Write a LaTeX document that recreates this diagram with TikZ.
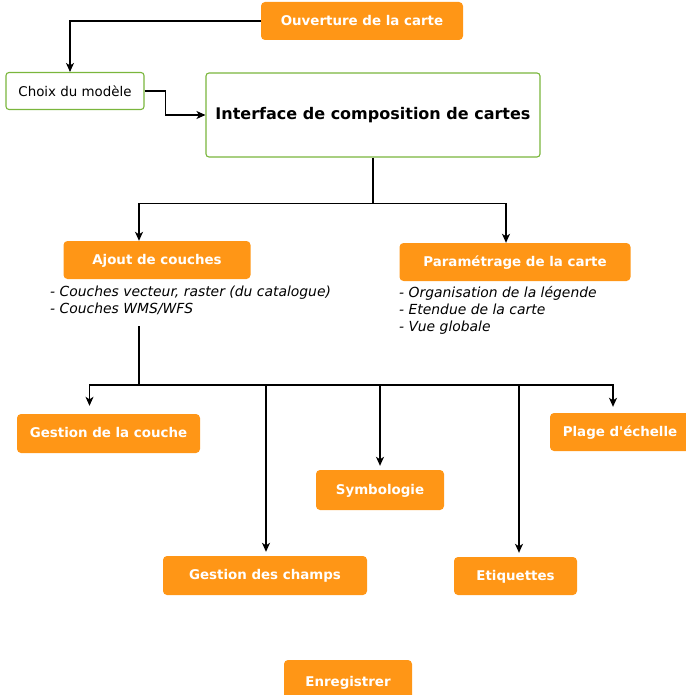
\documentclass[tikz,border=0pt]{standalone}
\usepackage{fontspec}
\setmainfont{DejaVu Sans}
\usepackage{tikz}
\usetikzlibrary{arrows.meta,shapes,positioning,calc}

\definecolor{boxorange}{RGB}{255,150,22}
\definecolor{boxgreen}{RGB}{122,182,60}

\tikzset{
  orangebox/.style={fill=boxorange, draw=none, rounded corners=4pt, text=white,
    font=\fontsize{13.4}{15}\selectfont\bfseries, inner sep=0pt, text depth=0.25ex},
  greenbox/.style={fill=white, draw=boxgreen, line width=1.1pt, rounded corners=3pt, inner sep=0pt},
  listtext/.style={font=\fontsize{13.9}{17.2}\selectfont\itshape, align=left, anchor=north west, inner sep=0pt},
  link/.style={line width=1.2pt, -{Stealth[length=9pt,width=8pt,inset=2.5pt]}}
}

\begin{document}
\begin{tikzpicture}[x=1pt,y=-1pt]
			\useasboundingbox (0,0) rectangle (685,695);
			
			% top of the chart
			\node[orangebox, minimum width=202pt, minimum height=38pt] (ouverture) at (362,21) {Ouverture de la carte};
			\node[greenbox, minimum width=138pt, minimum height=37pt, font=\fontsize{13.4}{15}\selectfont] (choix) at (75,91) {Choix du modèle};
			\node[greenbox, minimum width=334pt, minimum height=84pt, font=\fontsize{16}{18}\selectfont\bfseries] (interface) at (373,115) {Interface de composition de cartes};
			
			% second level
			\node[orangebox, minimum width=187pt, minimum height=38pt] (ajout) at (157,260) {Ajout de couches};
			\node[orangebox, minimum width=231pt, minimum height=38pt] (parametrage) at (515,262) {Paramétrage de la carte};
			\node[listtext] (ajoutliste) at (50,286) {- Couches vecteur, raster (du catalogue)\\- Couches WMS/WFS};
			\node[listtext] (paramliste) at (399,286) {- Organisation de la légende\\- Etendue de la carte\\- Vue globale};
			
			% tools
			\node[orangebox, minimum width=183pt, minimum height=39pt] (gcouche) at (108.5,433.5) {Gestion de la couche};
			\node[orangebox, minimum width=140pt, minimum height=38pt] (plage) at (620,432) {Plage d\textquotesingle échelle};
			\node[orangebox, minimum width=128pt, minimum height=40pt] (symbo) at (380,490) {Symbologie};
			\node[orangebox, minimum width=204pt, minimum height=39pt] (gchamps) at (265,575.5) {Gestion des champs};
			\node[orangebox, minimum width=123pt, minimum height=38pt] (etiq) at (515.5,576) {Etiquettes};
			\node[orangebox, minimum width=128pt, minimum height=44pt] (enreg) at (348,682) {Enregistrer};
			
			% connectors
			\draw[link] (ouverture.west) -| ([xshift=-5pt]choix.north);
			\draw[link] (choix.east) -- ++(21,0) |- (interface.west);
			\coordinate (split) at ($(interface.south)+(0,46)$);
			\draw[link] (interface.south) -- (split) -| ([xshift=-18pt]ajout.north);
			\draw[link] (split) -| ([xshift=-9pt]parametrage.north);
			
			\coordinate (trunk) at (139,326);
			\coordinate (hub) at (139,385);
			\draw[line width=2pt] (trunk) -- (hub);
			\draw[link, shorten >=8pt] (hub) -| ([xshift=-19pt]gcouche.north);
			\draw[link, shorten >=4pt] (hub) -| ([xshift=1pt]gchamps.north);
			\draw[link, shorten >=4pt] (hub) -| (symbo.north);
			\draw[link, shorten >=4pt] (hub) -| ([xshift=3.5pt]etiq.north);
			\draw[link, shorten >=6pt] (hub) -| ([xshift=-7pt]plage.north);
		\end{tikzpicture}
\end{document}
